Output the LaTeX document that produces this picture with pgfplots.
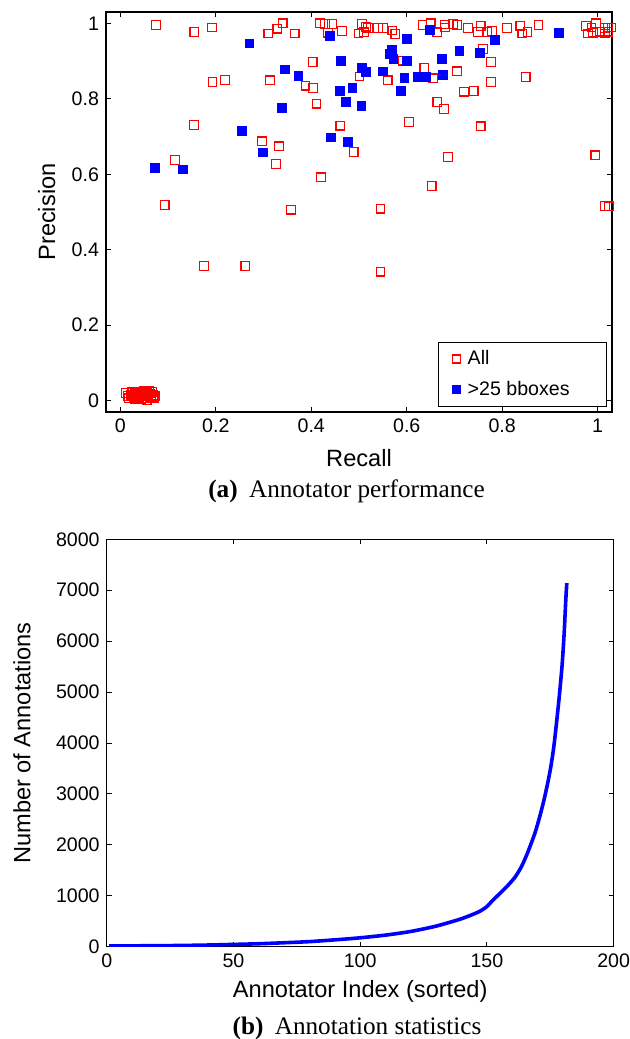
\documentclass[border=0pt]{standalone}
\usepackage{fontspec}
\setmainfont{Liberation Sans}
\newfontfamily\capfont{Liberation Serif}
\usepackage{pgfplots}
\pgfplotsset{compat=1.18}

\newcommand{\tickfont}{\fontsize{9.8}{11}\selectfont}
\newcommand{\labfont}{\fontsize{11.8}{14}\selectfont}
\newcommand{\capsize}{\fontsize{12.6}{15}\selectfont}

\pgfplotsset{
  mlab/.style={
    scale only axis,
    axis line style={line width=0.6pt},
    every tick/.style={black, line width=0.5pt},
    major tick length=2.5pt,
    tick align=inside,
    tick label style={font=\tickfont},
    /pgf/number format/assume math mode=true,
    label style={font=\labfont},
  }
}

\begin{document}
\begin{tikzpicture}
\path[use as bounding box] (0,0) rectangle (315pt,-519.5pt);

% (a) precision vs recall
\begin{axis}[mlab,
    at={(53pt,-206pt)}, anchor=south west,
    width=253pt, height=200pt,
    xmin=-0.03, xmax=1.03, ymin=-0.03, ymax=1.03,
    xtick={0,0.2,0.4,0.6,0.8,1},
    ytick={0,0.2,0.4,0.6,0.8,1},
    xlabel={Recall}, ylabel={Precision},
    xlabel style={at={(axis description cs:0.5,-0.115)}, anchor=center},
    ylabel style={at={(axis description cs:-0.117,0.5)}, anchor=center},
    legend cell align=left,
    legend image code/.code={
      \path (0cm,0cm) (0.27cm,0cm);
      \draw[mark repeat=2,mark phase=2,#1,mark size=2pt] plot coordinates {(0cm,0cm) (0.15cm,0cm) (0.3cm,0cm)};},
    legend style={at={(rel axis cs:0.9907,0.013)}, anchor=south east,
      draw=black, line width=0.6pt, fill=white, font=\tickfont,
      row sep=2.7pt, inner xsep=4.5pt, inner ysep=2pt},
]
\addplot[only marks, mark=square, mark size=2.17pt, color=red, mark options={solid, draw=red, line width=0.6pt}] coordinates {
  (0.075,0.996) (0.155,0.977) (0.192,0.989) (0.310,0.973) (0.329,0.986) (0.340,1.000)
  (0.365,0.973) (0.418,1.000) (0.429,0.998) (0.443,0.998) (0.435,0.975) (0.464,0.980)
  (0.506,0.998) (0.499,0.973) (0.510,0.976) (0.515,0.991)
  (0.519,0.987) (0.540,0.988) (0.550,0.987) (0.570,0.981) (0.576,0.972) (0.633,0.996)
  (0.650,1.000) (0.664,0.976) (0.680,0.997) (0.680,0.989) (0.697,0.998) (0.706,0.996)
  (0.728,0.987) (0.755,0.993) (0.749,0.977) (0.769,0.977) (0.779,0.980) (0.810,0.988)
  (0.838,0.993) (0.842,0.973) (0.853,0.977) (0.876,0.995) (0.976,0.993) (0.987,0.989)
  (0.996,1.000) (0.980,0.973) (0.990,0.975) (1.004,0.978) (1.015,0.987) (1.022,0.989)
  (1.029,0.989) (1.015,0.973) (1.022,0.978)
  (0.403,0.897) (0.193,0.845) (0.219,0.850) (0.314,0.849) (0.388,0.835) (0.404,0.828)
  (0.501,0.859) (0.411,0.787) (0.154,0.730) (0.461,0.729) (0.297,0.687) (0.332,0.674)
  (0.489,0.659) (0.115,0.638) (0.326,0.627) (0.420,0.592) (0.093,0.519) (0.358,0.506)
  (0.760,0.932) (0.592,0.901) (0.777,0.897) (0.637,0.882) (0.705,0.873) (0.849,0.858)
  (0.655,0.854) (0.777,0.844) (0.560,0.849) (0.720,0.819) (0.740,0.821) (0.664,0.792)
  (0.678,0.773) (0.605,0.739) (0.755,0.727) (0.686,0.646) (0.995,0.650) (0.652,0.569)
  (0.545,0.509) (0.175,0.357) (0.262,0.357) (0.545,0.342) (1.015,0.516) (1.024,0.515)
  (0.012,0.020) (0.015,0.012) (0.018,0.006) (0.022,0.016) (0.025,0.022) (0.028,0.010)
  (0.030,0.004) (0.033,0.018) (0.035,0.013) (0.038,0.024) (0.040,0.008) (0.042,0.015)
  (0.044,0.003) (0.046,0.020) (0.048,0.011) (0.050,0.025) (0.052,0.017) (0.054,0.007)
  (0.056,0.022) (0.058,0.013) (0.060,0.026) (0.062,0.019) (0.064,0.010) (0.066,0.024)
  (0.068,0.015) (0.070,0.008) (0.072,0.012) (0.040,0.020) (0.030,0.014) (0.055,0.002)
};
\addlegendentry{\makebox[63pt][l]{All}}
\addplot[only marks, mark=square*, mark size=2.2pt, color=blue, mark options={solid, draw=blue, fill=blue, line width=0.3pt}] coordinates {
  (0.270,0.947) (0.344,0.878) (0.373,0.860) (0.439,0.967) (0.462,0.901) (0.506,0.883)
  (0.515,0.872) (0.459,0.822) (0.486,0.830) (0.473,0.793) (0.505,0.781) (0.338,0.777)
  (0.254,0.716) (0.441,0.698) (0.477,0.685) (0.298,0.658) (0.073,0.618) (0.131,0.613)
  (0.649,0.982) (0.600,0.960) (0.785,0.957) (0.918,0.974) (0.569,0.929) (0.564,0.920)
  (0.572,0.907) (0.600,0.900) (0.710,0.928) (0.753,0.922) (0.674,0.906) (0.550,0.873)
  (0.595,0.856) (0.624,0.859) (0.640,0.859) (0.675,0.864) (0.588,0.821)
};
\addlegendentry{\makebox[63pt][l]{>25 bboxes}}
\end{axis}
\node[font=\capfont\capsize] at (173.3pt,-245.8pt) {\textbf{(a)}\hspace{0.45em}Annotator performance};

% (b) annotation counts
\begin{axis}[mlab,
    at={(53.35pt,-473.35pt)}, anchor=south west,
    width=253.5pt, height=203.7pt,
    xmin=0, xmax=200, ymin=0, ymax=8000,
    xtick={0,50,100,150,200},
    ytick={0,1000,2000,3000,4000,5000,6000,7000,8000},
    scaled ticks=false,
    /pgf/number format/1000 sep={},
    xlabel={Annotator Index (sorted)}, ylabel={Number of Annotations},
    xlabel style={at={(axis description cs:0.5,-0.11)}, anchor=center},
    ylabel style={at={(axis description cs:-0.167,0.5)}, anchor=center},
]
\addplot[blue, line width=1.8pt, smooth, tension=0.4] coordinates {
  (1,15) (10,17) (20,20) (30,25) (40,33) (50,45) (60,58) (70,78) (80,100) (90,135)
  (100,175) (110,228) (120,300) (130,405) (140,550) (147,690) (150,790) (152.4,917)
  (155,1040) (158,1190) (161,1360) (163.6,1571) (166,1840) (168.9,2227) (170.8,2550)
  (172.5,2881) (174,3220) (175.2,3535) (176.2,3860) (177.0,4191) (178.4,4850)
  (179.6,5498) (180.45,6150) (181.1,6808) (181.5,7140)
};
\end{axis}
\node[font=\capfont\capsize] at (178.5pt,-514pt) {\textbf{(b)}\hspace{0.45em}Annotation statistics};
\end{tikzpicture}
\end{document}
